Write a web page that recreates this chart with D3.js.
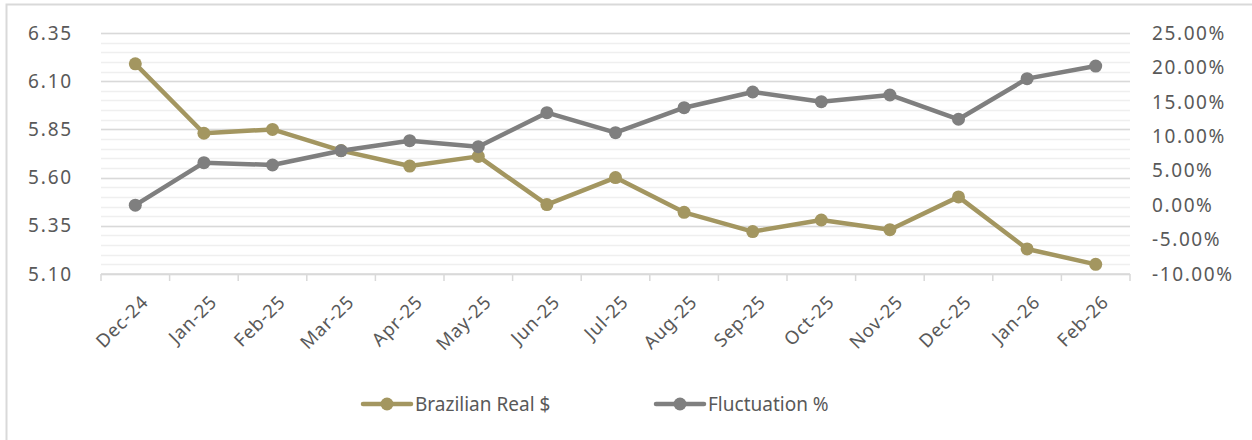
<!DOCTYPE html>
<html>
<head>
<meta charset="utf-8">
<script src="https://cdn.jsdelivr.net/npm/d3@7"></script>
<style>
  body { margin: 0; background: #fff; }
  text { font-family: "Noto Sans", sans-serif; fill: #595959; }
</style>
</head>
<body>
<div id="chart"></div>
<script>
const months = ["Dec-24","Jan-25","Feb-25","Mar-25","Apr-25","May-25","Jun-25","Jul-25",
  "Aug-25","Sep-25","Oct-25","Nov-25","Dec-25","Jan-26","Feb-26"];
const realValues = [6.19, 5.83, 5.85, 5.74, 5.66, 5.71, 5.46, 5.60, 5.42, 5.32, 5.38, 5.33, 5.50, 5.23, 5.15];
const fluctuation = [0.00, 6.17, 5.83, 7.90, 9.36, 8.49, 13.43, 10.52, 14.15, 16.43, 15.03, 16.00, 12.47, 18.37, 20.20];
const leftTicks = [5.10, 5.35, 5.60, 5.85, 6.10, 6.35];
const rightTicks = [-10, -5, 0, 5, 10, 15, 20, 25];
const seriesNames = ["Brazilian Real $", "Fluctuation %"];
const colors = ["#A39660", "#7F7F7F"];

const width = 1252, height = 440;
const plot = { left: 101, right: 1130, top: 33, bottom: 274 };

const svg = d3.select("#chart").append("svg")
  .attr("width", width).attr("height", height);

svg.append("rect")
  .attr("x", 6.5).attr("y", 4.5)
  .attr("width", 1260).attr("height", 450)
  .attr("fill", "#fff").attr("stroke", "#D9D9D9").attr("stroke-width", 2);

const x = d3.scaleBand().domain(months).range([plot.left, plot.right]);
const yL = d3.scaleLinear().domain([5.10, 6.35]).range([plot.bottom, plot.top]);
const yR = d3.scaleLinear().domain([-10, 25]).range([plot.bottom, plot.top]);

// minor + major gridlines
const minor = d3.range(5.10, 6.351, 0.05);
svg.append("g").selectAll("line").data(minor).enter().append("line")
  .attr("x1", plot.left).attr("x2", plot.right)
  .attr("y1", d => Math.round(yL(d)) + 0.5).attr("y2", d => Math.round(yL(d)) + 0.5)
  .attr("stroke", "#EFEFEF").attr("stroke-width", 1.5);
svg.append("g").selectAll("line").data(leftTicks).enter().append("line")
  .attr("x1", plot.left).attr("x2", plot.right)
  .attr("y1", d => Math.round(yL(d)) + 0.5).attr("y2", d => Math.round(yL(d)) + 0.5)
  .attr("stroke", "#D9D9D9").attr("stroke-width", 1.5);

// x axis
const xAxis = svg.append("g")
  .attr("transform", `translate(0,${plot.bottom})`);
xAxis.append("line").attr("x1", plot.left).attr("x2", plot.right)
  .attr("stroke", "#D9D9D9").attr("stroke-width", 1.5);
const bounds = months.map(m => x(m)).concat([plot.right]);
xAxis.selectAll(".tk").data(bounds).enter().append("line")
  .attr("x1", d => d).attr("x2", d => d).attr("y1", 0).attr("y2", 7)
  .attr("stroke", "#D9D9D9").attr("stroke-width", 1.5);
xAxis.selectAll("text").data(months).enter().append("text")
  .attr("transform", d => `translate(${x(d) + x.bandwidth() / 2 + 5},${20}) rotate(-45)`)
  .attr("text-anchor", "end")
  .attr("dy", "0.7em")
  .style("font-size", "18.5px")
  .style("letter-spacing", "0.8px")
  .text(d => d);

// left axis labels
svg.append("g").selectAll("text").data(leftTicks).enter().append("text")
  .attr("x", 73).attr("y", d => yL(d)).attr("dy", "0.35em")
  .attr("text-anchor", "end")
  .style("font-size", "19px")
  .style("letter-spacing", "1.8px")
  .text(d => d3.format(".2f")(d));

// right axis labels (Excel uses a plain hyphen for negatives)
svg.append("g").selectAll("text").data(rightTicks).enter().append("text")
  .attr("x", 1152).attr("y", d => yR(d)).attr("dy", "0.35em")
  .attr("text-anchor", "start")
  .style("font-size", "19px")
  .style("letter-spacing", "1.6px")
  .text(d => d3.format(".2f")(d).replace("\u2212", "-") + "%");

const cx = d => x(d) + x.bandwidth() / 2;

const drawSeries = (vals, yScale, color) => {
  const data = months.map((m, i) => ({ m, v: vals[i] }));
  svg.append("path").datum(data)
    .attr("fill", "none").attr("stroke", color).attr("stroke-width", 4.5)
    .attr("stroke-linejoin", "round")
    .attr("d", d3.line().x(d => cx(d.m)).y(d => yScale(d.v)));
  svg.append("g").selectAll("circle").data(data).enter().append("circle")
    .attr("cx", d => cx(d.m)).attr("cy", d => yScale(d.v)).attr("r", 6.5)
    .attr("fill", color);
};

drawSeries(realValues, yL, colors[0]);
drawSeries(fluctuation, yR, colors[1]);

// legend
const legendX = [363, 656];
const legend = svg.append("g");
seriesNames.forEach((name, i) => {
  const g = legend.append("g").attr("transform", `translate(${legendX[i]},404)`);
  g.append("line").attr("x1", 0).attr("x2", 48)
    .attr("stroke", colors[i]).attr("stroke-width", 4.5).attr("stroke-linecap", "round");
  g.append("circle").attr("cx", 24).attr("r", 6.5).attr("fill", colors[i]);
  g.append("text").attr("x", 52).attr("dy", "0.35em")
    .style("font-size", "19px").text(name);
});
</script>
</body>
</html>
